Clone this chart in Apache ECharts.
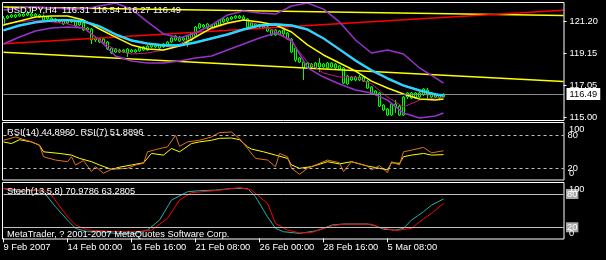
<!DOCTYPE html>
<html><head><meta charset="utf-8">
<script src="https://cdn.jsdelivr.net/npm/echarts@6/dist/echarts.min.js"></script>
<style>html,body{margin:0;padding:0;background:#000}#c{width:606px;height:260px}</style>
</head><body><div id="c"></div>
<script>
// ---------- data ----------
const symbolTitle = 'USDJPY,H4';
const lastBar = { open: 116.31, high: 116.54, low: 116.27, close: 116.49 };
const slotCount = 141;
const timeTickBars = [0, 16, 32, 48, 64, 80, 96];
const timeTickLabels = ['9 Feb 2007', '14 Feb 00:00', '16 Feb 16:00', '21 Feb 08:00', '26 Feb 00:00', '28 Feb 16:00', '5 Mar 08:00'];
const priceTicks = [121.20, 119.15, 117.05, 115.00];
const oscLevels = [80, 20];

const opens = [
120.96,121.41,121.48,121.61,121.54,121.67,121.61,121.67,121.54,121.61,
121.54,121.35,121.41,121.22,121.28,121.03,121.28,121.16,121.22,120.96,
121.09,120.64,120.70,119.99,120.05,119.79,119.86,119.47,119.21,119.34,
119.21,119.41,119.21,119.34,119.28,119.34,119.34,119.54,119.67,119.47,
119.54,119.60,119.86,119.99,120.18,119.99,119.92,119.99,120.25,120.77,
120.96,120.77,120.96,120.83,120.90,121.16,121.22,121.35,121.41,121.54,
121.48,121.35,120.90,121.03,120.83,120.96,120.83,120.64,120.31,120.57,
120.38,120.44,120.05,119.47,118.82,118.56,118.18,118.43,118.18,118.50,
118.24,118.50,118.24,118.43,118.31,118.18,117.14,117.59,117.40,117.59,
117.59,117.33,116.95,116.49,116.56,115.78,115.52,115.13,115.84,115.71,
115.13,116.30,116.56,116.23,116.56,116.43,116.75,116.49,116.30,116.43,
116.31];
const closes = [
121.41,121.54,121.61,121.48,121.67,121.54,121.74,121.54,121.67,121.48,
121.28,121.48,121.22,121.35,121.16,121.28,121.09,121.28,120.90,121.16,
120.64,120.77,119.99,120.12,119.86,120.05,119.41,119.15,119.41,119.21,
119.34,119.15,119.34,119.21,119.47,119.54,119.60,119.67,119.54,119.67,
119.73,119.86,120.12,120.25,119.92,120.12,120.25,120.44,120.83,121.03,
120.83,121.03,120.83,121.09,121.28,121.35,121.41,121.48,121.54,121.41,
121.35,120.83,121.09,120.83,120.96,120.77,120.57,120.31,120.64,120.38,
120.64,120.05,119.21,118.69,118.56,118.18,118.50,118.24,118.50,118.24,
118.43,118.18,118.50,118.18,118.11,117.20,117.66,117.40,117.59,117.40,
117.33,116.88,116.49,116.69,115.71,115.46,115.13,115.84,115.65,115.13,
116.30,116.56,116.23,116.56,116.30,116.82,116.43,116.30,116.49,116.23,
116.49];
const lows = [
120.90,121.35,121.41,121.41,121.48,121.48,121.54,121.48,121.48,121.41,
121.22,121.28,121.16,121.16,121.09,120.96,121.03,121.09,120.83,120.90,
120.57,120.51,119.73,119.86,119.79,119.73,119.34,119.08,119.15,119.15,
119.15,118.89,119.15,119.15,119.21,119.28,119.28,119.47,119.47,119.41,
119.47,119.54,119.79,119.92,119.86,119.92,119.54,119.92,120.18,120.70,
120.77,120.70,120.77,120.77,120.83,121.09,121.16,121.28,121.35,121.35,
121.22,120.77,120.83,120.77,120.70,120.70,120.51,120.25,120.25,120.31,
120.25,119.99,119.15,118.56,118.50,117.40,118.11,118.18,118.11,117.92,
118.18,118.11,118.18,118.11,118.05,117.14,117.07,117.33,117.33,117.33,
117.27,116.82,116.43,116.43,115.65,115.39,115.07,115.07,115.26,115.07,
115.07,116.17,116.17,116.17,116.23,116.36,116.17,116.23,116.23,116.17,
116.27];
const highs = [
121.54,121.61,121.67,121.67,121.74,121.74,121.80,121.80,121.74,121.67,
121.61,121.54,121.48,121.41,121.35,121.35,121.35,121.35,121.28,121.22,
121.16,120.83,120.77,120.18,120.12,120.12,119.92,119.54,119.47,119.41,
119.41,119.47,119.41,119.41,119.54,119.60,119.67,119.73,119.73,119.73,
119.79,119.92,120.18,120.31,120.25,120.18,120.31,120.51,120.90,121.09,
121.03,121.09,121.03,121.16,121.35,121.41,121.48,121.54,121.61,121.61,
121.61,121.41,121.16,121.09,121.03,121.03,120.90,120.70,120.70,120.64,
120.70,120.51,120.12,119.54,118.89,118.63,118.56,118.50,118.56,118.82,
118.50,118.56,118.56,118.50,118.37,118.24,117.72,117.66,117.66,117.72,
117.66,117.40,117.01,116.75,116.62,115.84,115.58,115.91,116.10,115.78,
116.36,116.62,116.62,116.62,116.62,116.88,116.88,116.56,116.56,116.49,
116.54];

// indicator lines, read every 4 bars
const lineBars = [0,4,8,12,16,20,24,28,32,36,40,44,48,52,56,60,64,68,72,76,80,84,88,92,96,100,104,108,110];
const maSlow = [120.64,120.96,121.16,121.28,121.31,121.22,120.90,120.38,119.99,119.79,119.67,119.67,119.86,120.12,120.38,120.70,120.96,121.03,120.96,120.70,120.12,119.41,118.69,118.05,117.53,117.07,116.75,116.49,116.43];
const maMid = [120.96,121.22,121.48,121.54,121.54,121.28,120.70,120.18,119.67,119.41,119.34,119.60,120.18,120.77,121.09,121.28,121.16,120.96,120.51,119.67,119.02,118.50,117.98,117.33,116.88,116.49,116.17,116.10,116.17];
const maFast = [121.03,121.16,121.28,121.16,121.03,120.77,119.99,119.34,119.08,119.15,119.34,119.73,120.25,120.70,121.03,121.28,120.96,120.57,119.86,118.56,117.85,117.59,117.59,117.14,116.30,115.65,116.10,116.23,116.30];
const bandUpper = [121.93,122.06,122.13,122.06,121.99,121.99,122.19,122.39,121.99,121.16,120.38,120.12,120.44,120.96,121.61,121.87,121.74,121.67,122.19,122.39,121.99,121.16,119.99,119.15,119.34,119.08,118.18,117.53,117.20];
const bandLower = [119.73,120.18,120.57,120.77,120.83,120.77,119.99,118.95,118.63,118.50,118.50,118.63,118.82,118.95,119.34,119.73,120.12,120.44,119.99,118.18,117.59,117.14,116.75,116.56,116.10,115.26,114.94,115.07,115.26];

// trend lines: [bar, price] endpoints
const trendRed = [[0, 119.75], [140, 121.91]];
const trendYellowTop = [[0, 122.13], [140, 121.58]];
const trendYellowLow = [[0, 119.19], [140, 117.31]];

// RSI
const rsi14Bars = [0,2,4,7,9,10,14,17,19,22,24,27,29,32,35,37,40,42,44,47,49,52,54,57,59,61,62,65,68,71,72,74,77,81,84,87,91,94,96,97,99,100,102,105,107,110];
const rsi14Vals = [68,65,72,68,62,50,47,44,38,32,26,18,22,26,30,47,44,56,50,65,68,71,74.5,75,72,59,55,50,44,38,26,20,23,32,28,32,24,20,17,30,29,41,44,47,44,44.9];
const rsi7Bars = [0,3,7,9,10,13,16,17,18,20,22,23,25,27,31,33,35,36,38,41,43,44,46,49,52,54,57,59,61,63,66,68,69,71,72,74,76,81,84,85,87,91,92,94,96,97,99,100,102,105,107,110];
const rsi7Vals = [71,77,68,62,41,35,32,41,26,34,14,23,11,18,20,26,29,50,54,59,80,60,68,71,77,85,86,74,56,38,35,23,47,41,20,9,20,35,30,14,32,24,17,25,12,32,26,50,53,58,48,51.9];

// Stochastic
const stochKBars = [0,4,8,10,13,16,18,21,24,28,33,36,39,42,46,49,53,57,61,63,66,68,70,74,78,80,82,85,91,93,95,98,100,102,105,107,110];
const stochKVals = [90,84,87,84,57,33,18,12,12,9,9,15,33,69,84,86,87,90,90,75,39,18,12,9,13.5,18,24,26,26,22.5,16.5,15,18,33,48,60,70.98];
const stochDBars = [0,4,10,12,16,18,21,24,28,33,37,41,44,47,53,59,62,66,68,71,74,77,82,85,92,94,98,102,104,107,110];
const stochDVals = [90,87,87,78,39,24,15,14,12,12,15,36,69,82.5,86,91.5,87,63,27,15,10,10.5,22.5,25.6,25.6,20,14,18,30,45,63.28];

const rsiTitle = 'RSI(14) 44.8960  RSI(7) 51.8896';
const stochTitle = 'Stoch(13,5,8) 70.9786 63.2805';
const copyright = 'MetaTrader, ? 2001-2007 MetaQuotes Software Corp.';

// ---------- chart ----------
const FONT = 'Liberation Sans';
const FS = 9.3;
const slots = Array.from({ length: slotCount }, (_, i) => String(i));
const pts = (bars, vals) => bars.map((b, k) => [b, vals[k]]);
const candles = opens.map((o, i) => [o, closes[i], lows[i], highs[i]]);
const isTick = (idx) => timeTickBars.indexOf(idx) >= 0;

function lineSeries(data, color, width, xi, yi, extra) {
  return Object.assign({
    type: 'line', data, xAxisIndex: xi, yAxisIndex: yi, showSymbol: false, symbol: 'none',
    silent: true, animation: false, clip: true,
    lineStyle: { color, width }
  }, extra || {});
}

const chart = echarts.init(document.getElementById('c'), null, { renderer: 'canvas' });
const xBase = {
  type: 'category', data: slots, boundaryGap: false,
  axisLine: { show: false }, splitLine: { show: false }
};
chart.setOption({
  backgroundColor: '#000',
  animation: false,
  textStyle: { fontFamily: FONT },
  grid: [
    { left: 3.5, top: 2, width: 560, height: 118 },
    { left: 3.5, top: 122, width: 560, height: 58 },
    { left: 3.5, top: 182, width: 560, height: 57 }
  ],
  xAxis: [
    Object.assign({}, xBase, { gridIndex: 0, axisTick: { show: false }, axisLabel: { show: false } }),
    Object.assign({}, xBase, { gridIndex: 1, axisTick: { show: false }, axisLabel: { show: false } }),
    Object.assign({}, xBase, {
      gridIndex: 2,
      axisTick: { show: true, interval: (i) => isTick(i), length: 4, lineStyle: { color: '#fff', width: 1 } },
      axisLabel: {
        show: true, interval: (i) => isTick(i), hideOverlap: false,
        formatter: (v, i) => timeTickLabels[timeTickBars.indexOf(Number(v))] || '',
        align: 'left', color: '#fff', fontSize: FS, fontFamily: FONT, margin: 4, padding: [0, 0, 0, 0]
      }
    })
  ],
  yAxis: [
    {
      gridIndex: 0, type: 'value', position: 'right', min: 114.81, max: 122.45, scale: true,
      splitLine: { show: false }, axisLine: { show: false },
      axisTick: { show: true, customValues: priceTicks, length: 3, lineStyle: { color: '#fff' } },
      axisLabel: { customValues: priceTicks, formatter: (v) => v.toFixed(2), color: '#fff', fontSize: FS, fontFamily: FONT, margin: 6, hideOverlap: false }
    },
    {
      gridIndex: 1, type: 'value', position: 'right', min: -1.3, max: 104.2,
      splitLine: { show: false }, axisLine: { show: false }, axisTick: { show: false },
      axisLabel: { customValues: oscLevels, color: '#fff', fontSize: FS, fontFamily: FONT, margin: 4, hideOverlap: false }
    },
    {
      gridIndex: 2, type: 'value', position: 'right', min: -1.1, max: 101.6,
      splitLine: { show: false }, axisLine: { show: false }, axisTick: { show: false },
      axisLabel: { customValues: oscLevels, color: '#ffffff', fontSize: FS, fontFamily: FONT, margin: 2.5, hideOverlap: false,
        backgroundColor: '#a8a8a8', padding: [1, 1, 0, 1] }
    }
  ],
  series: [
    {
      type: 'candlestick', data: candles, xAxisIndex: 0, yAxisIndex: 0, barWidth: 2, silent: true,
      itemStyle: { color: '#000', color0: '#000', borderColor: '#00ff00', borderColor0: '#00ff00', borderWidth: 1 },
      markLine: {
        silent: true, symbol: 'none', animation: false,
        lineStyle: { color: '#8c8c8c', type: 'solid', width: 1 },
        label: { show: true, position: 'end', formatter: lastBar.close.toFixed(2), color: '#000', backgroundColor: '#fff',
          padding: [2, 3, 1, 3], fontSize: FS, fontFamily: FONT, distance: 3 },
        data: [{ yAxis: lastBar.close }]
      },
      z: 2
    },
    lineSeries(trendYellowTop, '#ffff00', 1.5, 0, 0, { z: 3 }),
    lineSeries(trendYellowLow, '#ffff00', 1.5, 0, 0, { z: 3 }),
    lineSeries(trendRed, '#ff0000', 1.5, 0, 0, { z: 3 }),
    lineSeries(pts(lineBars, bandUpper), '#9932cc', 1.5, 0, 0, { z: 4 }),
    lineSeries(pts(lineBars, bandLower), '#9932cc', 1.5, 0, 0, { z: 4 }),
    lineSeries(pts(lineBars, maFast), '#c71585', 1, 0, 0, { z: 4 }),
    lineSeries(pts(lineBars, maMid), '#ffff00', 1.5, 0, 0, { z: 4 }),
    lineSeries(pts(lineBars, maSlow), '#7ab4ff', 1.2, 0, 0, { z: 5 }),
    lineSeries(pts(lineBars, maSlow), '#00e8ff', 1.4, 0, 0, { z: 6, lineStyle: { color: '#00e8ff', width: 1.4, shadowColor: '#7ab4ff', shadowOffsetY: 1, shadowBlur: 0 } }),
    // RSI
    lineSeries(pts(rsi14Bars, rsi14Vals), '#ffff00', 1, 1, 1, {
      markLine: {
        silent: true, symbol: 'none', animation: false, label: { show: false },
        lineStyle: { color: '#c0c0c0', type: [3, 3], width: 1 },
        data: oscLevels.map((v) => ({ yAxis: v }))
      }
    }),
    lineSeries(pts(rsi7Bars, rsi7Vals), '#e0701e', 1, 1, 1),
    // Stochastic
    lineSeries(pts(stochKBars, stochKVals), '#20b2aa', 1, 2, 2, {
      markLine: {
        silent: true, symbol: 'none', animation: false, label: { show: false },
        lineStyle: { color: '#c0c0c0', type: 'solid', width: 1 },
        data: oscLevels.map((v) => ({ yAxis: v }))
      }
    }),
    lineSeries(pts(stochDBars, stochDVals), '#ff0000', 1, 2, 2)
  ],
  graphic: [
    { type: 'rect', shape: { x: 2.5, y: 2.5, width: 561.5, height: 118 }, style: { fill: 'none', stroke: '#fff', lineWidth: 1 }, silent: true, z: 10 },
    { type: 'rect', shape: { x: 2.5, y: 122.5, width: 561.5, height: 57.5 }, style: { fill: 'none', stroke: '#fff', lineWidth: 1 }, silent: true, z: 10 },
    { type: 'rect', shape: { x: 2.5, y: 182.5, width: 561.5, height: 56.5 }, style: { fill: 'none', stroke: '#fff', lineWidth: 1 }, silent: true, z: 10 },
    { type: 'text', x: 7, y: 10.5, silent: true, z: 11, style: { text: symbolTitle + '  ' + [lastBar.open, lastBar.high, lastBar.low, lastBar.close].map(v => v.toFixed(2)).join(' '), fill: '#fff', font: FS + 'px "' + FONT + '"', verticalAlign: 'middle' } },
    { type: 'text', x: 7, y: 132, silent: true, z: 11, style: { text: rsiTitle, fill: '#fff', font: FS + 'px "' + FONT + '"', verticalAlign: 'middle' } },
    { type: 'text', x: 7, y: 191.5, silent: true, z: 11, style: { text: stochTitle, fill: '#fff', font: FS + 'px "' + FONT + '"', verticalAlign: 'middle' } },
    { type: 'text', x: 7, y: 234, silent: true, z: 11, style: { text: copyright, fill: '#fff', font: FS + 'px "' + FONT + '"', verticalAlign: 'middle' } },
    { type: 'text', x: 569, y: 129.5, silent: true, z: 11, style: { text: '100', fill: '#fff', font: FS + 'px "' + FONT + '"', verticalAlign: 'middle' } },
    { type: 'text', x: 569, y: 173, silent: true, z: 11, style: { text: '0', fill: '#fff', font: FS + 'px "' + FONT + '"', verticalAlign: 'middle' } },
    { type: 'text', x: 569, y: 189, silent: true, z: 11, style: { text: '100', fill: '#fff', font: FS + 'px "' + FONT + '"', verticalAlign: 'middle' } },
    { type: 'text', x: 569, y: 233, silent: true, z: 11, style: { text: '0', fill: '#fff', font: FS + 'px "' + FONT + '"', verticalAlign: 'middle' } }
  ]
});
</script>
</body></html>
